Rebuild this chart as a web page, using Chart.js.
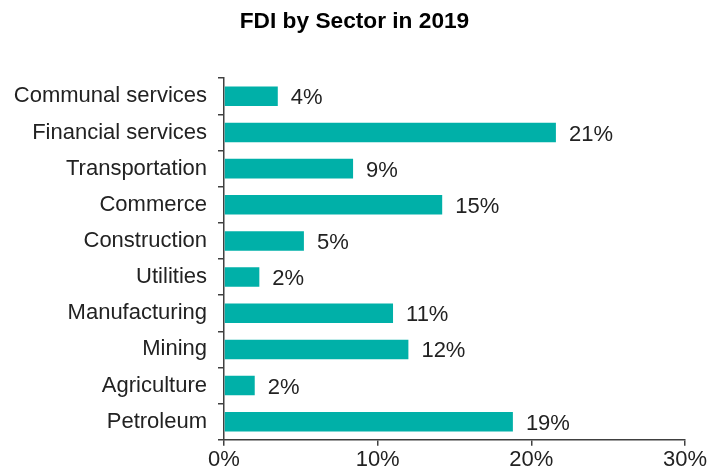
<!DOCTYPE html>
<html lang="en">
<head>
    <meta charset="UTF-8">
    <title>FDI by Sector in 2019</title>
    <script src="https://cdn.jsdelivr.net/npm/chart.js"></script>
    <style>
        body {
            margin: 0;
            background: #fff;
        }
        canvas {
            display: block;
        }
    </style>
</head>
<body>
    <canvas id="fdiChart" width="709" height="474"></canvas>

    <script>
        // Sectors, top to bottom
        const sectors = ['Communal services', 'Financial services', 'Transportation', 'Commerce',
            'Construction', 'Utilities', 'Manufacturing', 'Mining', 'Agriculture', 'Petroleum'];
        // Bar lengths (% of FDI)
        const shares = [3.5, 21.6, 8.4, 14.2, 5.2, 2.3, 11.0, 12.0, 2.0, 18.8];
        // Printed labels next to the bars
        const shareLabels = ['4%', '21%', '9%', '15%', '5%', '2%', '11%', '12%', '2%', '19%'];
        const xTicks = [0, 10, 20, 30];

        const FONT = "'Liberation Sans', Arial, sans-serif";
        const AXIS_COLOR = '#404040';
        const TEXT_COLOR = '#222222';

        // draws the % labels at the end of each bar
        const barLabels = {
            id: 'barLabels',
            afterDatasetsDraw(chart) {
                const ctx = chart.ctx;
                const meta = chart.getDatasetMeta(0);
                ctx.save();
                ctx.font = '22px ' + FONT;
                ctx.fillStyle = TEXT_COLOR;
                ctx.textAlign = 'left';
                ctx.textBaseline = 'middle';
                meta.data.forEach((bar, i) => {
                    ctx.fillText(shareLabels[i], bar.x + 13, bar.y + 2);
                });
                ctx.restore();
            }
        };

        // centre the title on the whole canvas, not just the padded area
        const centerTitle = {
            id: 'centerTitle',
            afterLayout(chart) {
                const t = chart.titleBlock;
                t.left = 0;
                t.right = chart.width;
                t.width = chart.width;
            }
        };

        new Chart(document.getElementById('fdiChart'), {
            type: 'bar',
            data: {
                labels: sectors,
                datasets: [{
                    data: shares,
                    backgroundColor: '#00B0A8',
                    borderWidth: 0,
                    barPercentage: 0.9,
                    categoryPercentage: 0.6
                }]
            },
            options: {
                indexAxis: 'y',
                responsive: false,
                animation: false,
                layout: {
                    padding: { left: 0, right: 22, top: 0, bottom: 0 }
                },
                plugins: {
                    legend: { display: false },
                    tooltip: { enabled: false },
                    title: {
                        display: true,
                        text: 'FDI by Sector in 2019',
                        color: '#000',
                        font: { family: FONT, size: 22.7, weight: 'bold' },
                        padding: { top: 8, bottom: 43 }
                    }
                },
                scales: {
                    x: {
                        min: 0,
                        max: 30,
                        afterBuildTicks(scale) {
                            scale.ticks = xTicks.map(v => ({ value: v }));
                        },
                        border: { display: true, color: AXIS_COLOR, width: 1.5 },
                        grid: {
                            drawOnChartArea: false,
                            drawTicks: true,
                            tickLength: 6,
                            color: AXIS_COLOR,
                            lineWidth: 1.5
                        },
                        ticks: {
                            callback: v => v + '%',
                            color: TEXT_COLOR,
                            font: { family: FONT, size: 22, lineHeight: 1.1 },
                            padding: 2,
                            maxRotation: 0
                        }
                    },
                    y: {
                        afterFit(scale) {
                            scale.width = 224;
                        },
                        border: { display: true, color: AXIS_COLOR, width: 1.5 },
                        grid: {
                            offset: true,
                            drawOnChartArea: false,
                            drawTicks: true,
                            tickLength: 6,
                            color: AXIS_COLOR,
                            lineWidth: 1.5
                        },
                        ticks: {
                            color: TEXT_COLOR,
                            font: { family: FONT, size: 22 },
                            padding: 11
                        }
                    }
                }
            },
            plugins: [barLabels, centerTitle]
        });
    </script>
</body>
</html>
